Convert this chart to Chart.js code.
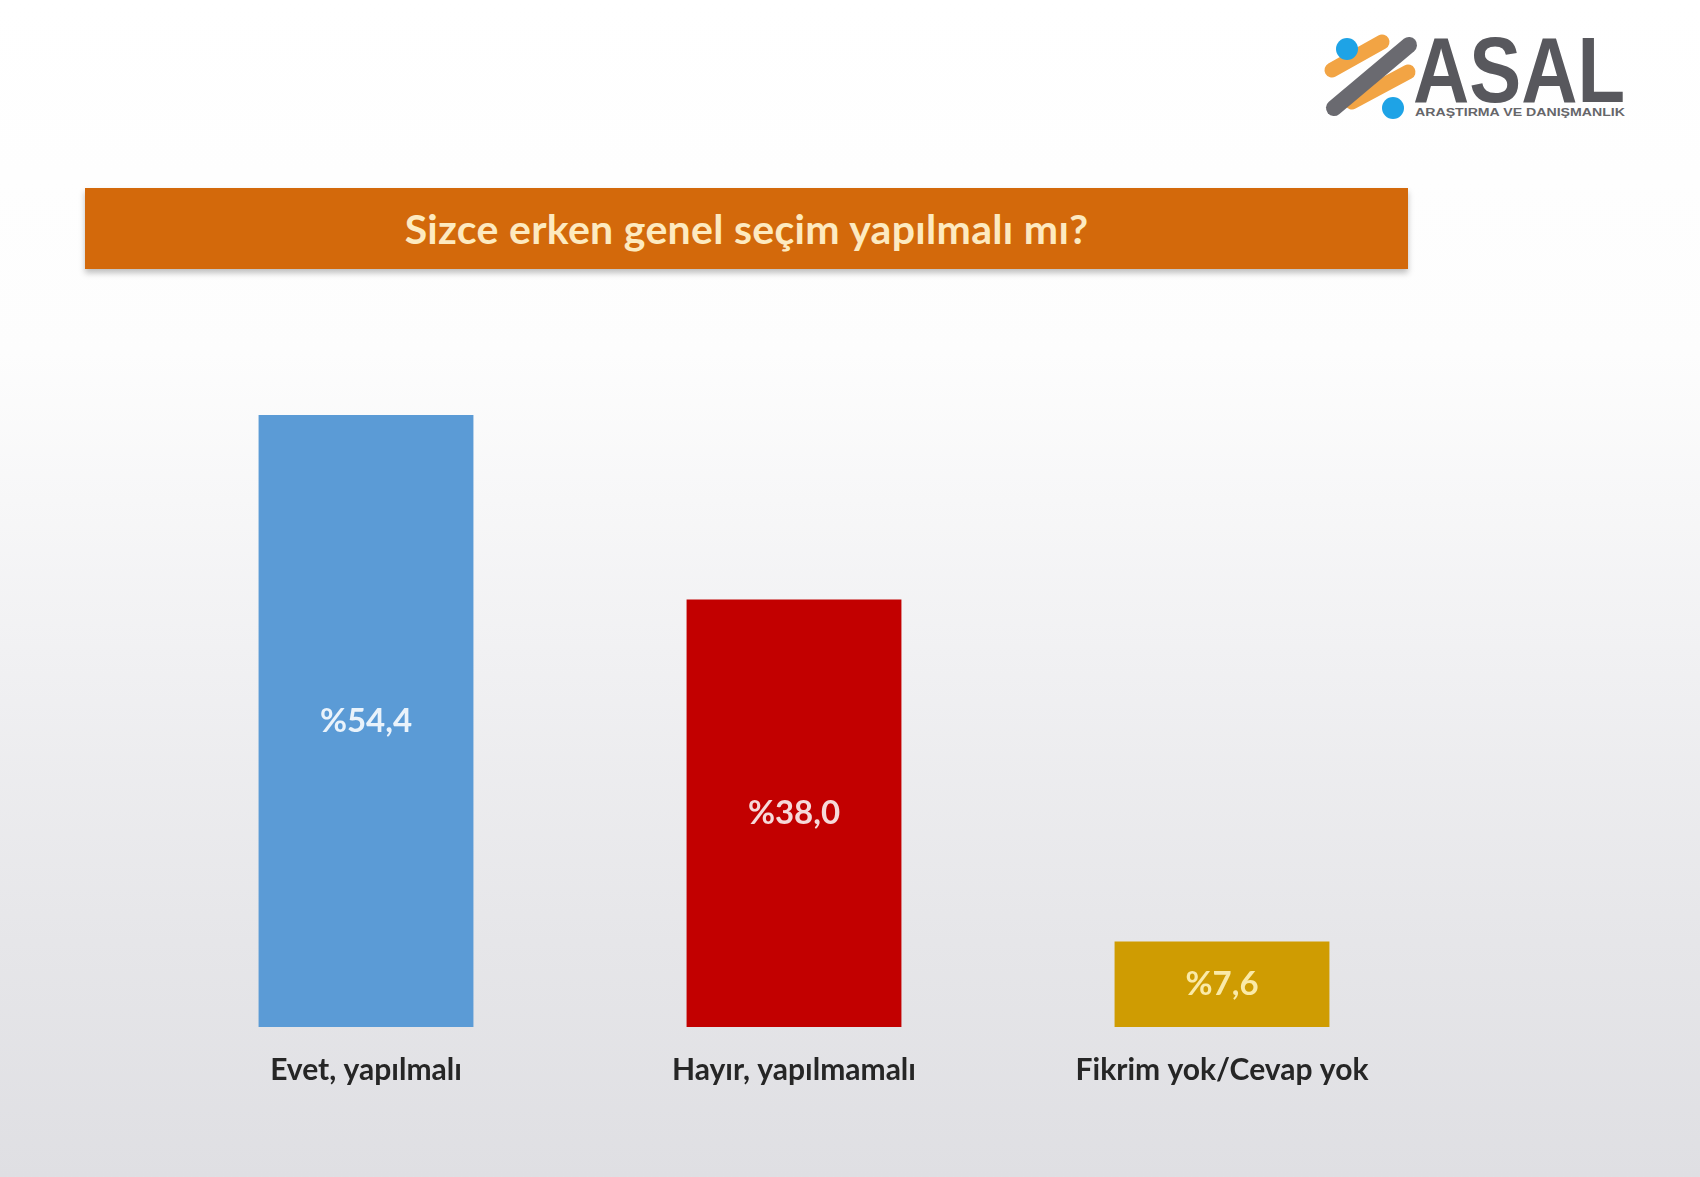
<!DOCTYPE html>
<html>
<head>
<meta charset="utf-8">
<script src="https://cdn.jsdelivr.net/npm/chart.js@4.4.1/dist/chart.umd.min.js"></script>
<style>
  body {
    margin: 0;
    width: 1700px;
    height: 1177px;
    overflow: hidden;
    position: relative;
    font-family: Lato, "Open Sans", sans-serif;
    background: linear-gradient(#ffffff 0%, #fdfdfd 30%, #f1f1f3 55%, #e6e6e9 80%, #dfdfe3 100%);
  }
  #banner {
    position: absolute;
    left: 85px;
    top: 188px;
    width: 1323px;
    height: 81px;
    background: #d3690b;
    box-shadow: 0 4px 6px rgba(0, 0, 0, 0.25);
    color: #fdeac0;
    font-weight: bold;
    font-size: 41px;
    letter-spacing: 0.3px;
    line-height: 81px;
    text-align: center;
  }
  #logo {
    position: absolute;
    left: 1320px;
    top: 30px;
  }
  #chart {
    position: absolute;
    left: 0;
    top: 0;
  }
</style>
</head>
<body>
<div id="banner">Sizce erken genel seçim yapılmalı mı?</div>
<svg id="logo" width="320" height="100">
  <line x1="12" y1="40" x2="62" y2="12" stroke="#f2a444" stroke-width="15" stroke-linecap="round"/>
  <line x1="32" y1="72" x2="88" y2="42" stroke="#f2a444" stroke-width="15" stroke-linecap="round"/>
  <line x1="14" y1="78" x2="89" y2="15" stroke="#6a6a70" stroke-width="16" stroke-linecap="round"/>
  <circle cx="27" cy="19" r="11" fill="#1ea3e6"/>
  <circle cx="73" cy="78" r="11" fill="#1ea3e6"/>
  <text x="93" y="72" font-family="Liberation Sans, Arial, sans-serif" font-weight="bold" font-size="92" fill="#58585d" textLength="212" lengthAdjust="spacingAndGlyphs">ASAL</text>
  <text x="95" y="86" font-family="Liberation Sans, Arial, sans-serif" font-weight="bold" font-size="10" fill="#66666a" textLength="210" lengthAdjust="spacingAndGlyphs">ARAŞTIRMA VE DANIŞMANLIK</text>
</svg>
<canvas id="chart" width="1700" height="1177"></canvas>
<script>
// veriler
const categories = ['Evet, yapılmalı', 'Hayır, yapılmamalı', 'Fikrim yok/Cevap yok'];
const values = [54.4, 38.0, 7.6];
const barColors = ['#5b9bd6', '#c20000', '#cf9c02'];
const labelColors = ['#eaf3fb', '#f6dada', '#faeaa8'];

// bar içi yüzde etiketi
const valueLabels = {
    id: 'valueLabels',
    afterDatasetsDraw(chart) {
        const ctx = chart.ctx;
        const meta = chart.getDatasetMeta(0);
        ctx.save();
        ctx.font = 'bold 33px Lato';
        ctx.textAlign = 'center';
        ctx.textBaseline = 'middle';
        meta.data.forEach((bar, i) => {
            let txt = '%' + values[i].toFixed(1).replace('.', ',');
            ctx.fillStyle = labelColors[i];
            ctx.fillText(txt, bar.x, (bar.y + bar.base) / 2);
        });
        ctx.restore();
    }
};

new Chart(document.getElementById('chart'), {
    type: 'bar',
    data: {
        labels: categories,
        datasets: [{
            data: values,
            backgroundColor: barColors,
            borderWidth: 0,
            categoryPercentage: 1,
            barPercentage: 0.502
        }]
    },
    options: {
        responsive: false,
        animation: false,
        layout: {
            padding: { left: 152, right: 264, top: 352, bottom: 64 }
        },
        plugins: {
            legend: { display: false },
            tooltip: { enabled: false }
        },
        scales: {
            x: {
                grid: { display: false, drawTicks: false },
                border: { display: false },
                ticks: {
                    padding: 25,
                    color: '#262626',
                    font: { family: 'Lato', weight: 'bold', size: 30 }
                }
            },
            y: {
                display: false,
                min: 0,
                max: 60
            }
        }
    },
    plugins: [valueLabels]
});
</script>
</body>
</html>
